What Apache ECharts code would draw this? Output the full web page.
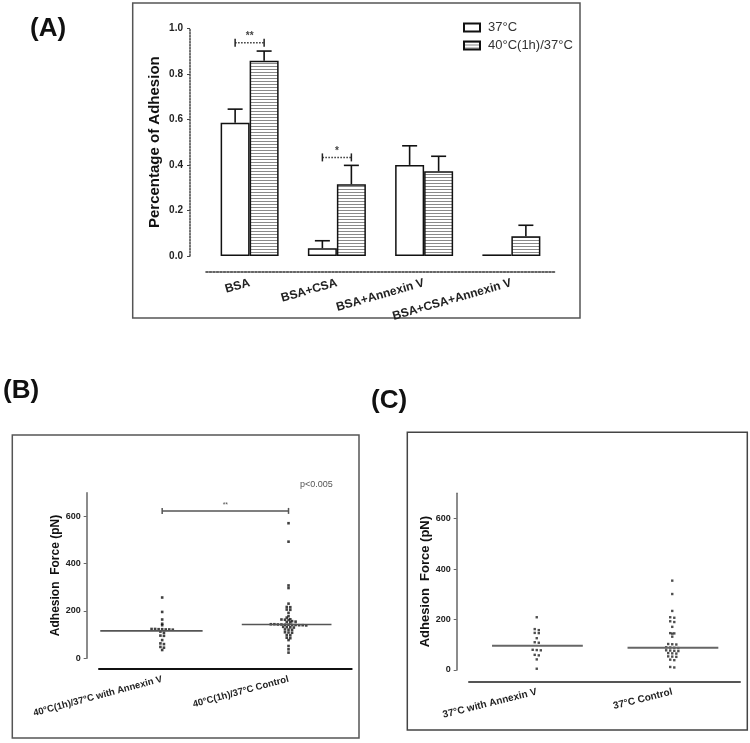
<!DOCTYPE html>
<html><head><meta charset="utf-8">
<script src="https://cdn.jsdelivr.net/npm/echarts@6/dist/echarts.min.js"></script>
<style>html,body{margin:0;padding:0;background:#fff}#c{width:750px;height:743px}</style>
</head><body><div id="c"></div>
<script>
// ---------- Panel A data ----------
const catsA = ['BSA', 'BSA+CSA', 'BSA+Annexin V', 'BSA+CSA+Annexin V'];
const namesA = ['37°C', '40°C(1h)/37°C'];
const mean37 = [0.585, 0.034, 0.400, 0.007];
const upper37 = [0.645, 0.067, 0.484, 0.007];
const mean40 = [0.858, 0.315, 0.372, 0.087];
const upper40 = [0.900, 0.398, 0.438, 0.135];
const sigCatsA = [0, 1];
const sigLevelsA = [0.937, 0.433];
const sigTextA = ['**', '*'];
const yTicksA = [0, 0.2, 0.4, 0.6, 0.8, 1.0];

// ---------- Panel B data ----------
const catsB = ['40°C(1h)/37°C with Annexin V', '40°C(1h)/37°C Control'];
const forceB1 = [257, 196, 164, 146, 140, 124, 124, 123, 123, 122, 122, 121, 113, 108, 96, 95, 77, 63, 60, 48, 45, 35];
const forceB2 = [571, 493, 308, 297, 231, 217, 216, 206, 205, 192, 178, 172, 165, 164, 163, 162, 157, 155, 153, 152,
  144, 144, 143, 143, 142, 142, 141, 141, 140, 140, 139, 133, 132, 131, 130, 122, 121, 120, 110, 109, 108, 98, 97, 87, 85, 77, 52, 38, 24];
const medianB = [116, 143];
const sigB = [623];
const pTextB = 'p<0.005';

// ---------- Panel C data ----------
const catsC = ['37°C with Annexin V', '37°C Control'];
const forceC1 = [209, 162, 158, 147, 146, 126, 110, 108, 80, 79, 78, 60, 58, 42, 5];
const forceC2 = [354, 301, 234, 209, 207, 193, 190, 171, 146, 145, 144, 132, 103, 102, 101, 90, 89, 88, 87, 78, 77, 76, 75,
  67, 66, 65, 54, 53, 52, 41, 39, 12, 10];
const medianC = [96, 88];
const yTicksForce = [0, 200, 400, 600];

// ---------- helpers ----------
const FONT = 'Liberation Sans, Arial, sans-serif';
function swarm(values, g, binSize, dx) {
  const bins = {};
  values.forEach(v => { const k = Math.round(v / binSize); (bins[k] = bins[k] || []).push(v); });
  const out = [];
  Object.keys(bins).forEach(k => {
    const arr = bins[k], n = arr.length;
    arr.forEach((v, j) => out.push([g + (j - (n - 1) / 2) * dx, v]));
  });
  return out;
}
const pc = document.createElement('canvas');
pc.width = 4; pc.height = 3;
const pctx = pc.getContext('2d');
pctx.fillStyle = '#ffffff'; pctx.fillRect(0, 0, 4, 3);
pctx.fillStyle = '#8a8a8a'; pctx.fillRect(0, 0, 4, 1);
const stripe = { image: pc, repeat: 'repeat' };

const BARW = 29;

function errRender(params, api) {
  const i = api.value(0), m = api.value(1), u = api.value(2), s = api.value(3);
  if (u <= m) return;
  const off = s === 0 ? -BARW / 2 : BARW / 2;
  const p0 = api.coord([i, m]), p1 = api.coord([i, u]);
  const x = p0[0] + off;
  const st = { stroke: '#111', lineWidth: 1.6 };
  return { type: 'group', children: [
    { type: 'line', shape: { x1: x, y1: p0[1], x2: x, y2: p1[1] }, style: st },
    { type: 'line', shape: { x1: x - 7.5, y1: p1[1], x2: x + 7.5, y2: p1[1] }, style: st }
  ]};
}
function sigRenderA(params, api) {
  const i = api.value(0), y = api.value(1);
  const c = api.coord([i, y]);
  const xl = c[0] - BARW / 2, xr = c[0] + BARW / 2;
  const st = { stroke: '#222', lineWidth: 1.5 };
  return { type: 'group', children: [
    { type: 'line', shape: { x1: xl, y1: c[1], x2: xr, y2: c[1] }, style: { stroke: '#333', lineWidth: 1.5, lineDash: [1.5, 1.5] } },
    { type: 'line', shape: { x1: xl, y1: c[1] - 4, x2: xl, y2: c[1] + 4 }, style: st },
    { type: 'line', shape: { x1: xr, y1: c[1] - 4, x2: xr, y2: c[1] + 4 }, style: st },
    { type: 'text', style: { text: sigTextA[params.dataIndex], x: c[0], y: c[1] - 1, align: 'center', verticalAlign: 'bottom', fill: '#444', font: 'bold 10px ' + FONT } }
  ]};
}
function medianRender(ext, color, width) {
  return function (params, api) {
    const i = api.value(0), m = api.value(1);
    const e = ext[params.dataIndex];
    const a = api.coord([i - e[0], m]), b = api.coord([i + e[1], m]);
    return { type: 'line', shape: { x1: a[0], y1: a[1], x2: b[0], y2: b[1] }, style: { stroke: color, lineWidth: width } };
  };
}
function sigRenderB(params, api) {
  const y = api.value(0);
  const a = api.coord([0, y]), b = api.coord([1, y]);
  const st = { stroke: '#555', lineWidth: 1.5 };
  return { type: 'group', children: [
    { type: 'line', shape: { x1: a[0], y1: a[1], x2: b[0], y2: b[1] }, style: st },
    { type: 'line', shape: { x1: a[0], y1: a[1] - 3, x2: a[0], y2: a[1] + 3 }, style: st },
    { type: 'line', shape: { x1: b[0], y1: b[1] - 3, x2: b[0], y2: b[1] + 3 }, style: st },
    { type: 'text', style: { text: '**', x: (a[0] + b[0]) / 2, y: a[1] - 2, align: 'center', verticalAlign: 'bottom', fill: '#555', font: '7px ' + FONT } }
  ]};
}

const chart = echarts.init(document.getElementById('c'), null, { renderer: 'canvas' });
const catAxisCommon = (data, rot, fs, mg) => ({
  type: 'category', data: data, boundaryGap: true, position: 'bottom',
  axisTick: { alignWithLabel: true, length: 4, lineStyle: { color: '#333', width: 1.2 } },
  axisLabel: { rotate: rot, fontSize: fs, fontWeight: 'bold', color: '#222', margin: mg, fontFamily: FONT, interval: 0 },
  splitLine: { show: false }
});
const forceY = (grid, gap, fs) => ({
  type: 'value', gridIndex: grid, min: 0, max: 700, interval: 200, offset: 12.3, position: 'left',
  name: 'Adhesion  Force (pN)', nameLocation: 'middle', nameRotate: 90, nameGap: gap,
  nameTextStyle: { fontSize: fs, fontWeight: 'bold', color: '#111', fontFamily: FONT },
  axisLine: { show: true, onZero: false, lineStyle: { color: '#666', width: 1.5 } },
  axisTick: { show: true, length: 3, lineStyle: { color: '#666' } },
  axisLabel: { fontSize: 9, fontWeight: 'bold', color: '#222', margin: 6, showMaxLabel: false },
  splitLine: { show: false }
});

const option = {
  animation: false,
  textStyle: { fontFamily: FONT },
  grid: [
    { left: 206, top: 28.3, width: 349, height: 227.7 },
    { left: 99, top: 492.7, width: 252.7, height: 165.6 },
    { left: 469, top: 493.3, width: 271, height: 176.7 }
  ],
  legend: {
    data: namesA, orient: 'vertical', left: 458, top: 16, itemWidth: 16, itemHeight: 8, itemGap: 5,
    icon: 'rect', textStyle: { fontSize: 13, color: '#333', fontFamily: FONT, padding: [0, 0, 0, 3] }
  },
  xAxis: [
    Object.assign(catAxisCommon(catsA, 16, 12, 11), { gridIndex: 0, offset: 15.7,
      axisLine: { onZero: false, lineStyle: { color: '#333', width: 1.6, type: [2, 1.5] } } }),
    Object.assign(catAxisCommon(catsB, 15, 9.5, 10), { gridIndex: 1, offset: 10.7,
      axisLine: { onZero: false, lineStyle: { color: '#111', width: 2 } } }),
    { type: 'value', gridIndex: 1, min: -0.5, max: 1.5, show: false, axisLine: { onZero: false } },
    Object.assign(catAxisCommon(catsC, 14, 10, 10), { gridIndex: 2, offset: 11.7,
      axisLine: { onZero: false, lineStyle: { color: '#555', width: 2 } } }),
    { type: 'value', gridIndex: 2, min: -0.5, max: 1.5, show: false, axisLine: { onZero: false } }
  ],
  yAxis: [
    { type: 'value', gridIndex: 0, min: 0, max: 1, interval: 0.2, offset: 16, position: 'left',
      name: 'Percentage of Adhesion', nameLocation: 'middle', nameRotate: 90, nameGap: 28,
      nameTextStyle: { fontSize: 15, fontWeight: 'bold', color: '#111', fontFamily: FONT },
      axisLine: { show: true, onZero: false, lineStyle: { color: '#444', width: 1.5, type: [1.5, 1.5] } },
      axisTick: { show: true, length: 3, lineStyle: { color: '#444' } },
      axisLabel: { fontSize: 10, fontWeight: 'bold', color: '#222', margin: 7, formatter: v => v.toFixed(1) },
      splitLine: { show: false } },
    forceY(1, 23, 12),
    forceY(2, 25, 13)
  ],
  series: [
    { name: namesA[0], type: 'bar', xAxisIndex: 0, yAxisIndex: 0, data: mean37, barWidth: BARW, barGap: '0%',
      itemStyle: { color: '#ffffff', borderColor: '#111', borderWidth: 1.5 } },
    { name: namesA[1], type: 'bar', xAxisIndex: 0, yAxisIndex: 0, data: mean40, barWidth: BARW, barGap: '0%',
      itemStyle: { color: stripe, borderColor: '#111', borderWidth: 1.5 } },
    { type: 'custom', xAxisIndex: 0, yAxisIndex: 0, renderItem: errRender, z: 5,
      data: mean37.map((m, i) => [i, m, upper37[i], 0]).concat(mean40.map((m, i) => [i, m, upper40[i], 1])) },
    { type: 'custom', xAxisIndex: 0, yAxisIndex: 0, renderItem: sigRenderA, z: 5,
      data: sigCatsA.map((c, k) => [c, sigLevelsA[k]]) },
    // Panel B
    { type: 'scatter', xAxisIndex: 2, yAxisIndex: 1, symbol: 'rect', symbolSize: 2.6,
      itemStyle: { color: '#111' }, data: swarm(forceB1, 0, 10, 0.028).concat(swarm(forceB2, 1, 10, 0.028)) },
    { type: 'custom', xAxisIndex: 2, yAxisIndex: 1, z: 3,
      renderItem: medianRender([[0.49, 0.32], [0.37, 0.34]], '#555', 1.6), data: medianB.map((m, i) => [i, m]) },
    { type: 'custom', xAxisIndex: 2, yAxisIndex: 1, renderItem: sigRenderB, data: sigB.map(v => [v]) },
    // Panel C
    { type: 'scatter', xAxisIndex: 4, yAxisIndex: 2, symbol: 'rect', symbolSize: 2.4,
      itemStyle: { color: '#222' }, data: swarm(forceC1, 0, 10, 0.03).concat(swarm(forceC2, 1, 10, 0.03)) },
    { type: 'custom', xAxisIndex: 4, yAxisIndex: 2, z: 3,
      renderItem: medianRender([[0.33, 0.34], [0.33, 0.34]], '#666', 2), data: medianC.map((m, i) => [i, m]) }
  ],
  graphic: [
    { type: 'rect', shape: { x: 132.7, y: 3, width: 447.3, height: 315 }, style: { fill: 'none', stroke: '#555', lineWidth: 1.5 }, z: -1 },
    { type: 'rect', shape: { x: 12.3, y: 435, width: 346.7, height: 303 }, style: { fill: 'none', stroke: '#555', lineWidth: 1.5 }, z: -1 },
    { type: 'rect', shape: { x: 407.3, y: 432.3, width: 340, height: 297.7 }, style: { fill: 'none', stroke: '#444', lineWidth: 1.5 }, z: -1 },
    { type: 'text', left: 30, top: 16, style: { text: '(A)', font: 'bold 26px ' + FONT, fill: '#111' } },
    { type: 'text', left: 3, top: 378, style: { text: '(B)', font: 'bold 26px ' + FONT, fill: '#111' } },
    { type: 'text', left: 371, top: 388, style: { text: '(C)', font: 'bold 26px ' + FONT, fill: '#111' } },
    { type: 'text', left: 300, top: 480, style: { text: pTextB, font: '9px ' + FONT, fill: '#555' } }
  ]
};
chart.setOption(option);
</script>
</body></html>
